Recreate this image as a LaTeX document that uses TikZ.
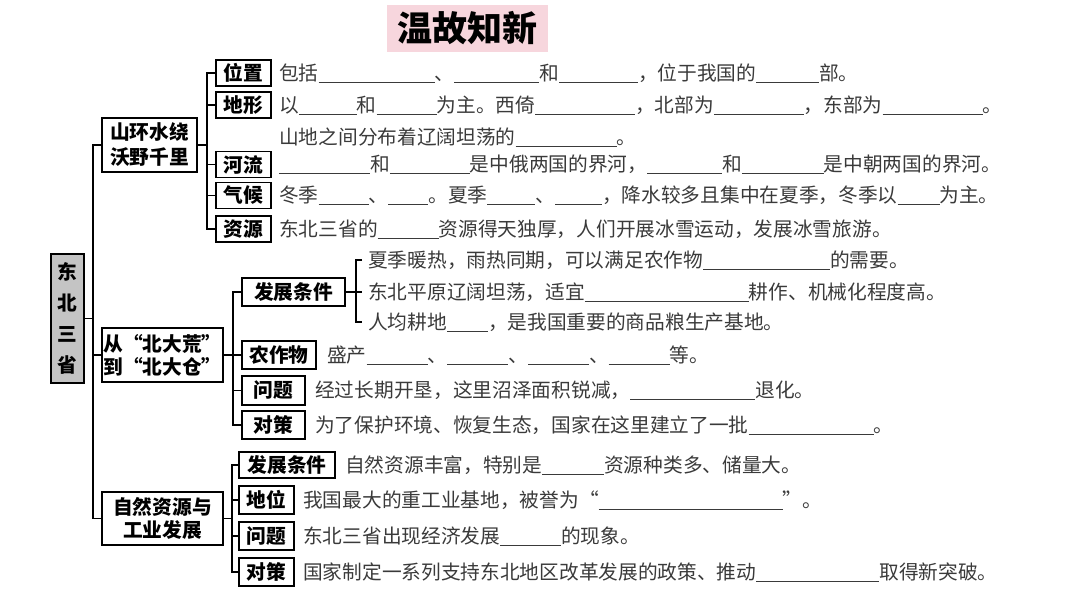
\documentclass[tikz,border=0pt]{standalone}
\usepackage{fontspec}
\setmainfont{Noto Sans CJK SC}
\definecolor{txtgray}{RGB}{58,58,58}
\definecolor{titlepink}{RGB}{247,214,221}
\definecolor{boxgray}{RGB}{196,196,196}
\newcommand\bodyfont{\fontsize{19.7pt}{23pt}\selectfont}
\newcommand\bl[1]{\rule[-2.4pt]{#1pt}{0.9pt}}
\tikzset{
  txt/.style={anchor=west, inner sep=0pt, text height=17.3pt, text depth=2.4pt, font=\bodyfont, text=txtgray},
  lab/.style={draw, line width=1.3pt, inner sep=0pt, font=\bodyfont\bfseries, text=black, minimum height=27pt},
  cat/.style={draw, line width=1.3pt, inner sep=0pt, align=center, text=black},
  conn/.style={line width=1.3pt, line cap=rect}
}
\begin{document}
\begin{tikzpicture}[x=1pt,y=-1pt]
\useasboundingbox (0,0) rectangle (1080,608);
% title
\node[fill=titlepink, inner sep=0pt, minimum width=161pt, minimum height=47pt, font=\fontsize{35pt}{40pt}\selectfont\bfseries] (title) at (467.5,28) {温故知新};
% root
\node[cat, fill=boxgray, minimum width=33pt, minimum height=129pt, font=\fontsize{19.7pt}{31pt}\selectfont\bfseries] (db) at (67.5,318.5) {东\\北\\三\\省};
% categories
\node[cat, minimum width=95pt, minimum height=54pt, font=\fontsize{19.7pt}{25pt}\selectfont\bfseries] (sh) at (149.5,145) {山环水绕\\沃野千里};
\node[cat, minimum width=121pt, minimum height=54pt, font=\fontsize{19.7pt}{23pt}\selectfont\bfseries] (cb) at (162.5,355) {从“北大荒”\\到“北大仓”};
\node[cat, minimum width=121pt, minimum height=53pt, font=\fontsize{19.7pt}{23pt}\selectfont\bfseries] (zr) at (162.5,518.5) {自然资源与\\工业发展};
% children of sh
\node[lab, minimum width=55pt, minimum height=26pt] (wz) at (243.5,73) {位置};
\node[lab, minimum width=55pt, minimum height=26pt] (dx) at (243.5,105) {地形};
\node[lab, minimum width=55pt, minimum height=26pt] (hl) at (243.5,164.5) {河流};
\node[lab, minimum width=55pt, minimum height=26pt] (qh) at (243.5,195.5) {气候};
\node[lab, minimum width=55pt, minimum height=26pt] (zy) at (243.5,229) {资源};
% children of cb
\node[lab, minimum width=103pt, minimum height=28pt] (fz1) at (293.5,292) {发展条件};
\node[lab, minimum width=74pt, minimum height=28pt] (nz) at (279,355) {农作物};
\node[lab, minimum width=63pt, minimum height=29pt] (wt1) at (273.5,390.5) {问题};
\node[lab, minimum width=63pt, minimum height=28pt] (dc1) at (273.5,425) {对策};
% children of zr
\node[lab, minimum width=96pt, minimum height=26pt] (fz2) at (287,465) {发展条件};
\node[lab, minimum width=55pt, minimum height=28pt] (dw) at (266.5,500) {地位};
\node[lab, minimum width=55pt, minimum height=28pt] (wt2) at (266.5,536) {问题};
\node[lab, minimum width=55pt, minimum height=28pt] (dc2) at (266.5,572) {对策};
% text lines
\node[txt] (t1) at (279,73) {包括\bl{116}、\bl{85}和\bl{79}，位于我国的\bl{63}部。};
\node[txt] (t2) at (279,105) {以\bl{58}和\bl{60}为主。西倚\bl{100}，北部为\bl{90}，东部为\bl{100}。};
\node[txt] (t3) at (279,137) {山地之间分布着辽阔坦荡的\bl{101}。};
\node[txt] (t4) at (279,164.5) {\bl{91}和\bl{80}是中俄两国的界河，\bl{75}和\bl{82}是中朝两国的界河。};
\node[txt] (t5) at (279,195.5) {冬季\bl{50}、\bl{40}。夏季\bl{48}、\bl{47}，降水较多且集中在夏季，冬季以\bl{42}为主。};
\node[txt] (t6) at (279,229) {东北三省的\bl{61}资源得天独厚，人们开展冰雪运动，发展冰雪旅游。};
\node[txt] (c1) at (368,260) {夏季暖热，雨热同期，可以满足农作物\bl{127}的需要。};
\node[txt] (c2) at (368,292) {东北平原辽阔坦荡，适宜\bl{164}耕作、机械化程度高。};
\node[txt] (c3) at (368,322) {人均耕地\bl{41}，是我国重要的商品粮生产基地。};
\node[txt] (n1) at (327,355) {盛产\bl{61}、\bl{61}、\bl{61}、\bl{61}等。};
\node[txt] (n2) at (315,390) {经过长期开垦，这里沼泽面积锐减，\bl{125}退化。};
\node[txt] (n3) at (315,425) {为了保护环境、恢复生态，国家在这里建立了一批\bl{125}。};
\node[txt] (z1) at (345,465) {自然资源丰富，特别是\bl{62}资源种类多、储量大。};
\node[txt] (z2) at (303,500) {我国最大的重工业基地，被誉为“\bl{184}”。};
\node[txt] (z3) at (303,536) {东北三省出现经济发展\bl{61}的现象。};
\node[txt] (z4) at (303,572) {国家制定一系列支持东北地区改革发展的政策、推动\bl{123}取得新突破。};
% connectors
\coordinate (tr) at (93,0);
\coordinate (b1) at (207,0);
\coordinate (b2) at (233,0);
\coordinate (b3) at (232,0);
\coordinate (b4) at (356,0);
\draw[conn] (sh.west) -- (sh.west -| tr) -- (zr.west -| tr) -- (zr.west);
\draw[conn] (db.east) -- (db.east -| tr);
\draw[conn] (cb.west) -- (cb.west -| tr);
\draw[conn] (wz.west) -- (wz.west -| b1) -- (zy.west -| b1) -- (zy.west);
\draw[conn] (sh.east) -- (sh.east -| b1);
\draw[conn] (dx.west) -- (dx.west -| b1);
\draw[conn] (hl.west) -- (hl.west -| b1);
\draw[conn] (qh.west) -- (qh.west -| b1);
\draw[conn] (fz1.west) -- (fz1.west -| b2) -- (dc1.west -| b2) -- (dc1.west);
\draw[conn] (cb.east) -- (cb.east -| b2);
\draw[conn] (nz.west) -- (nz.west -| b2);
\draw[conn] (wt1.west) -- (wt1.west -| b2);
\draw[conn] (fz2.west) -- (fz2.west -| b3) -- (dc2.west -| b3) -- (dc2.west);
\draw[conn] (zr.east) -- (zr.east -| b3);
\draw[conn] (dw.west) -- (dw.west -| b3);
\draw[conn] (wt2.west) -- (wt2.west -| b3);
\draw[line width=1.1pt] ([xshift=-6pt]c1.west) -- (c1.west -| b4) -- (c3.west -| b4) -- ([xshift=-6pt]c3.west);
\draw[line width=1.1pt] (fz1.east) -- ([xshift=-6pt]c2.west);
\end{tikzpicture}
\end{document}
